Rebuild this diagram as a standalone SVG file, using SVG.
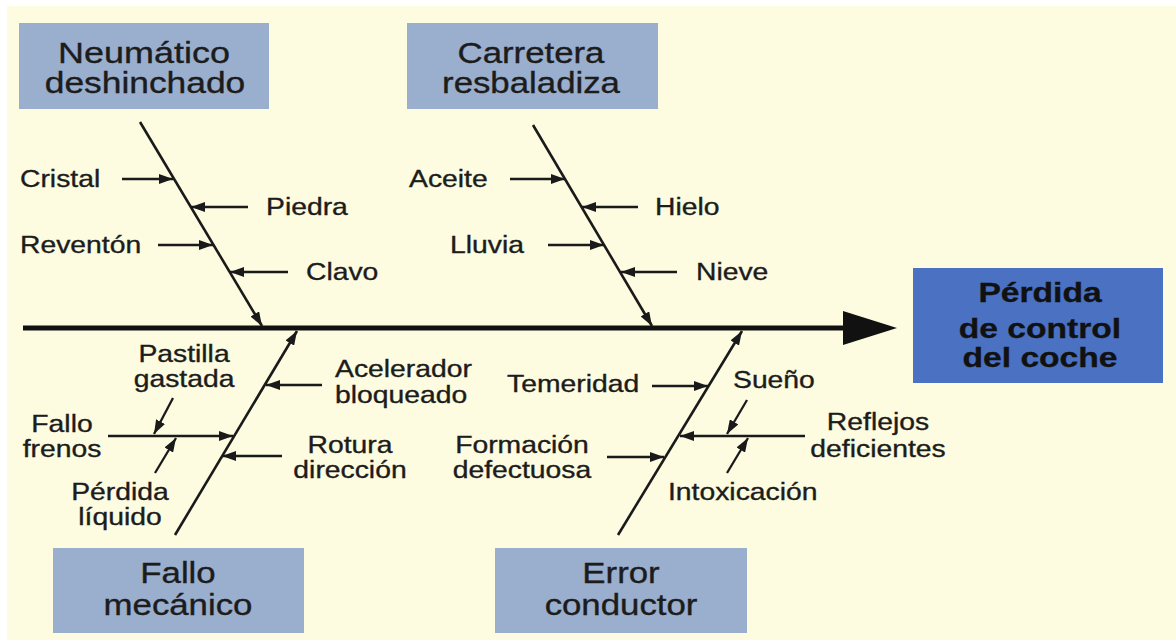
<svg xmlns="http://www.w3.org/2000/svg" width="1176" height="642" viewBox="0 0 1176 642">
<defs>
<style>
text{font-family:"Liberation Sans",Arial,sans-serif;fill:#1c1c1c;stroke:#1c1c1c;stroke-width:0.35px;}
.lbl{font-size:24px;}
.mid{text-anchor:middle;}
.box{fill:#9aaecd;}
.boxt{font-size:29px;text-anchor:middle;}
.res{fill:#4a71c2;}
.rest{font-size:28px;font-weight:bold;text-anchor:middle;fill:#111;stroke:#111;}
.bone{stroke:#1a1a1a;stroke-width:2.6;fill:none;marker-end:url(#ah);}
.sub{stroke:#1a1a1a;stroke-width:2.3;fill:none;marker-end:url(#ah);}
</style>
<marker id="ah" markerUnits="userSpaceOnUse" markerWidth="14" markerHeight="10" refX="14" refY="5" orient="auto">
<path d="M0,0 L14,5 L0,10 z" fill="#1a1a1a"/>
</marker>
</defs>
<rect x="0" y="0" width="1176" height="642" fill="#ffffff"/>
<rect x="7" y="6" width="1169" height="634" fill="#fdfbe0"/>

<g id="connectors">
<line x1="23" y1="328" x2="850" y2="328" stroke="#111" stroke-width="5"/>
<polygon points="843,311 897,328 843,345" fill="#111"/>
<line class="bone" x1="140" y1="122" x2="262" y2="326"/>
<line class="bone" x1="533" y1="125" x2="652" y2="326"/>
<line class="bone" x1="175" y1="535" x2="297" y2="331"/>
<line class="bone" x1="618" y1="535" x2="742" y2="331"/>
<line class="sub" x1="122" y1="179" x2="173" y2="179"/>
<line class="sub" x1="248" y1="207" x2="191" y2="207"/>
<line class="sub" x1="158" y1="245" x2="213" y2="245"/>
<line class="sub" x1="288" y1="272" x2="230" y2="272"/>
<line class="sub" x1="510" y1="179" x2="565" y2="179"/>
<line class="sub" x1="638" y1="207" x2="582" y2="207"/>
<line class="sub" x1="548" y1="245" x2="604" y2="245"/>
<line class="sub" x1="677" y1="272" x2="621" y2="272"/>
<line class="sub" x1="322" y1="385" x2="266" y2="385"/>
<line class="sub" x1="108" y1="436" x2="233" y2="436"/>
<line class="sub" x1="173" y1="398" x2="154" y2="434"/>
<line class="sub" x1="155" y1="473" x2="176" y2="438"/>
<line class="sub" x1="282" y1="456" x2="222" y2="456"/>
<line class="sub" x1="652" y1="386" x2="708" y2="386"/>
<line class="sub" x1="805" y1="436" x2="680" y2="436"/>
<line class="sub" x1="747" y1="400" x2="727" y2="434"/>
<line class="sub" x1="727" y1="473" x2="748" y2="438"/>
<line class="sub" x1="607" y1="457" x2="664" y2="457"/>
</g>

<g id="node-neumatico">
<rect class="box" x="19" y="23" width="250" height="86"/>
<text class="boxt" transform="translate(144 63) scale(1.24 1)">Neumático</text>
<text class="boxt" transform="translate(145 93) scale(1.22 1)">deshinchado</text>
</g>
<g id="node-carretera">
<rect class="box" x="407" y="23" width="251" height="86"/>
<text class="boxt" transform="translate(531 63) scale(1.2 1)">Carretera</text>
<text class="boxt" transform="translate(531 93) scale(1.2 1)">resbaladiza</text>
</g>
<g id="node-fallo-mecanico">
<rect class="box" x="53" y="548" width="251" height="85"/>
<text class="boxt" transform="translate(178 583) scale(1.2 1)">Fallo</text>
<text class="boxt" transform="translate(178 615) scale(1.2 1)">mecánico</text>
</g>
<g id="node-error-conductor">
<rect class="box" x="495" y="548" width="252" height="85"/>
<text class="boxt" transform="translate(621 583) scale(1.2 1)">Error</text>
<text class="boxt" transform="translate(621 615) scale(1.2 1)">conductor</text>
</g>
<g id="node-resultado">
<rect class="res" x="913" y="268" width="250" height="115"/>
<text class="rest" transform="translate(1040 302) scale(1.2 1)">Pérdida</text>
<text class="rest" transform="translate(1040 338) scale(1.2 1)">de control</text>
<text class="rest" transform="translate(1040 367) scale(1.2 1)">del coche</text>
</g>

<g id="node-cristal"><text class="lbl" transform="translate(20 187) scale(1.18 1)">Cristal</text></g>
<g id="node-piedra"><text class="lbl" transform="translate(266 215) scale(1.18 1)">Piedra</text></g>
<g id="node-reventon"><text class="lbl" transform="translate(20 253) scale(1.18 1)">Reventón</text></g>
<g id="node-clavo"><text class="lbl" transform="translate(306 280) scale(1.18 1)">Clavo</text></g>
<g id="node-aceite"><text class="lbl" transform="translate(409 187) scale(1.18 1)">Aceite</text></g>
<g id="node-hielo"><text class="lbl" transform="translate(655 215) scale(1.18 1)">Hielo</text></g>
<g id="node-lluvia"><text class="lbl" transform="translate(450 253) scale(1.18 1)">Lluvia</text></g>
<g id="node-nieve"><text class="lbl" transform="translate(696 280) scale(1.18 1)">Nieve</text></g>

<g id="node-pastilla">
<text class="lbl mid" transform="translate(184 362) scale(1.18 1)">Pastilla</text>
<text class="lbl mid" transform="translate(184 387) scale(1.18 1)">gastada</text>
</g>
<g id="node-acelerador">
<text class="lbl" transform="translate(335 377) scale(1.18 1)">Acelerador</text>
<text class="lbl" transform="translate(335 403) scale(1.18 1)">bloqueado</text>
</g>
<g id="node-fallo-frenos">
<text class="lbl mid" transform="translate(62 432) scale(1.18 1)">Fallo</text>
<text class="lbl mid" transform="translate(62 457) scale(1.18 1)">frenos</text>
</g>
<g id="node-perdida-liquido">
<text class="lbl mid" transform="translate(120 500) scale(1.18 1)">Pérdida</text>
<text class="lbl mid" transform="translate(120 525) scale(1.18 1)">líquido</text>
</g>
<g id="node-rotura">
<text class="lbl mid" transform="translate(350 453) scale(1.18 1)">Rotura</text>
<text class="lbl mid" transform="translate(350 478) scale(1.18 1)">dirección</text>
</g>
<g id="node-temeridad"><text class="lbl" transform="translate(507 392) scale(1.18 1)">Temeridad</text></g>
<g id="node-sueno"><text class="lbl" transform="translate(733 388) scale(1.18 1)">Sueño</text></g>
<g id="node-reflejos">
<text class="lbl mid" transform="translate(878 430) scale(1.18 1)">Reflejos</text>
<text class="lbl mid" transform="translate(878 457) scale(1.18 1)">deficientes</text>
</g>
<g id="node-intoxicacion"><text class="lbl" transform="translate(668 500) scale(1.18 1)">Intoxicación</text></g>
<g id="node-formacion">
<text class="lbl mid" transform="translate(522 453) scale(1.18 1)">Formación</text>
<text class="lbl mid" transform="translate(522 478) scale(1.18 1)">defectuosa</text>
</g>
</svg>
